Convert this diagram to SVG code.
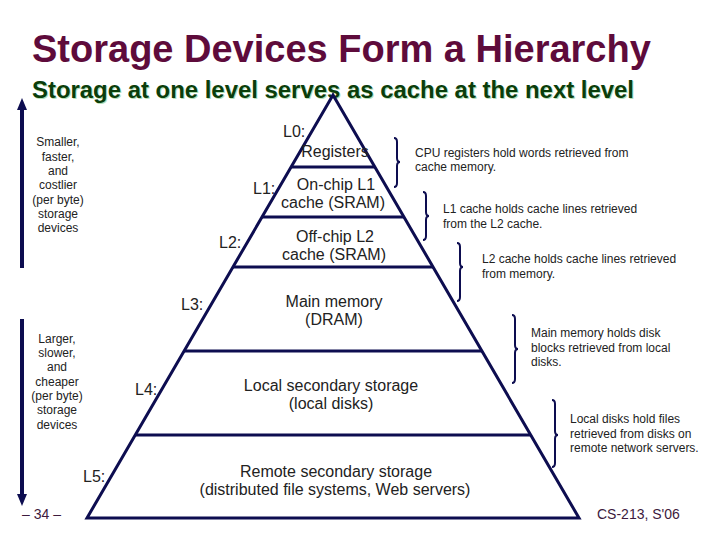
<svg xmlns="http://www.w3.org/2000/svg" width="720" height="540" viewBox="0 0 720 540">
<defs>
<style>
.title{font-family:"Liberation Sans",Arial,sans-serif;font-weight:bold;font-size:38px;fill:#5e0b3b}
.sub{font-family:"Liberation Sans",Arial,sans-serif;font-weight:bold;font-size:23px}
.lvl{font-family:"Liberation Sans",Arial,sans-serif;font-size:16px;fill:#222}
.ctr{text-anchor:middle}
.side{font-family:"Liberation Sans",Arial,sans-serif;font-size:12px;fill:#222;text-anchor:middle}
.note{font-family:"Liberation Sans",Arial,sans-serif;font-size:12px;fill:#222}
.foot{font-family:"Liberation Sans",Arial,sans-serif;font-size:14px;fill:#3d1a3d}
.ln{stroke:#0d0d50;stroke-width:3;fill:none;stroke-linejoin:miter}
.br{stroke:#0d0d50;stroke-width:2;fill:none}
.arw{stroke:#0d0d50;stroke-width:4}
.hd{fill:#0d0d50}
</style>
</defs>
<rect width="720" height="540" fill="#fff"/>
<text class="title" x="32" y="62">Storage Devices Form a Hierarchy</text>
<text class="sub" x="33" y="99" fill="#b4e0b4" textLength="602" lengthAdjust="spacingAndGlyphs">Storage at one level serves as cache at the next level</text>
<text class="sub" x="32" y="98" fill="#0b3d0b" textLength="602" lengthAdjust="spacingAndGlyphs">Storage at one level serves as cache at the next level</text>

<g id="pyramid">
<path class="ln" d="M333,95 L87,518 L579,518 Z"/>
<line class="ln" x1="291" y1="167" x2="375" y2="167"/>
<line class="ln" x1="262" y1="217" x2="404" y2="217"/>
<line class="ln" x1="233" y1="267" x2="433" y2="267"/>
<line class="ln" x1="184" y1="351" x2="482" y2="351"/>
<line class="ln" x1="135" y1="435" x2="531" y2="435"/>
</g>

<g id="L0">
<text class="lvl" x="283" y="137">L0:</text>
<text class="lvl ctr" x="335" y="157">Registers</text>
</g>
<g id="L1">
<text class="lvl" x="253" y="194">L1:</text>
<text class="lvl ctr" x="336" y="190">On-chip L1</text>
<text class="lvl ctr" x="333" y="208">cache (SRAM)</text>
</g>
<g id="L2">
<text class="lvl" x="219" y="248">L2:</text>
<text class="lvl ctr" x="335" y="242">Off-chip L2</text>
<text class="lvl ctr" x="334" y="260">cache (SRAM)</text>
</g>
<g id="L3">
<text class="lvl" x="181" y="310">L3:</text>
<text class="lvl ctr" x="334" y="307">Main memory</text>
<text class="lvl ctr" x="334" y="325">(DRAM)</text>
</g>
<g id="L4">
<text class="lvl" x="135" y="395">L4:</text>
<text class="lvl ctr" x="331" y="391">Local secondary storage</text>
<text class="lvl ctr" x="331" y="409">(local disks)</text>
</g>
<g id="L5">
<text class="lvl" x="83" y="482">L5:</text>
<text class="lvl ctr" x="336" y="477">Remote secondary storage</text>
<text class="lvl ctr" x="335" y="495">(distributed file systems, Web servers)</text>
</g>

<g id="left-up">
<line class="arw" x1="22" y1="106" x2="22" y2="268"/>
<polygon class="hd" points="22,98 17,110 27,110"/>
<text class="side" x="58" y="146">Smaller,</text>
<text class="side" x="58" y="160.5">faster,</text>
<text class="side" x="58" y="175">and</text>
<text class="side" x="58" y="189">costlier</text>
<text class="side" x="58" y="203.5">(per byte)</text>
<text class="side" x="58" y="218">storage</text>
<text class="side" x="58" y="232">devices</text>
</g>
<g id="left-down">
<line class="arw" x1="22" y1="319" x2="22" y2="498"/>
<polygon class="hd" points="17,494 27,494 22,506"/>
<text class="side" x="57" y="343">Larger,</text>
<text class="side" x="57" y="357">slower,</text>
<text class="side" x="57" y="371">and</text>
<text class="side" x="57" y="385.5">cheaper</text>
<text class="side" x="57" y="400">(per byte)</text>
<text class="side" x="57" y="414">storage</text>
<text class="side" x="57" y="428.5">devices</text>
</g>

<g id="braces">
<path class="br" d="M394,138 Q397,138 397,142 L397,158 Q397,162 400,162 Q397,162 397,166 L397,183 Q397,187 394,187"/>
<path class="br" d="M423,192 Q426,192 426,196 L426,212 Q426,216 429,216 Q426,216 426,220 L426,236 Q426,240 423,240"/>
<path class="br" d="M457,243 Q460,243 460,247 L460,263 Q460,267 463,267 Q460,267 460,271 L460,297 Q460,301 457,301"/>
<path class="br" d="M512,315 Q515,315 515,319 L515,345 Q515,349 518,349 Q515,349 515,353 L515,379 Q515,383 512,383"/>
<path class="br" d="M552,400 Q555,400 555,404 L555,431 Q555,435 558,435 Q555,435 555,439 L555,463 Q555,467 552,467"/>
</g>

<g id="note-L0">
<text class="note" x="415" y="157">CPU registers hold words retrieved from</text>
<text class="note" x="415" y="171">cache memory.</text>
</g>
<g id="note-L1">
<text class="note" x="443" y="213">L1 cache holds cache lines retrieved</text>
<text class="note" x="443" y="228">from the L2 cache.</text>
</g>
<g id="note-L2">
<text class="note" x="482" y="263">L2 cache holds cache lines retrieved</text>
<text class="note" x="482" y="278">from memory.</text>
</g>
<g id="note-L3">
<text class="note" x="531" y="337">Main memory holds disk</text>
<text class="note" x="531" y="352">blocks retrieved from local</text>
<text class="note" x="531" y="366">disks.</text>
</g>
<g id="note-L4">
<text class="note" x="570" y="423">Local disks hold files</text>
<text class="note" x="570" y="437.5">retrieved from disks on</text>
<text class="note" x="570" y="452">remote network servers.</text>
</g>

<text class="foot" x="22" y="519">– 34 –</text>
<text class="foot" x="597" y="519">CS-213, S'06</text>
</svg>
